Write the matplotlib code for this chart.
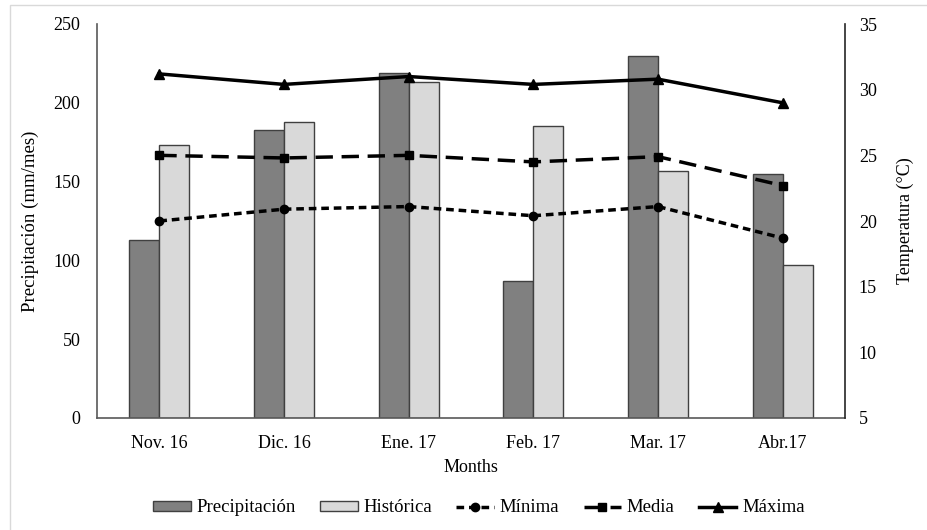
import matplotlib.pyplot as plt
import numpy as np
from matplotlib.lines import Line2D
from matplotlib.patches import Patch

plt.rcParams['font.family'] = ['Liberation Serif', 'DejaVu Serif']

months = ['Nov. 16', 'Dic. 16', 'Ene. 17', 'Feb. 17', 'Mar. 17', 'Abr.17']
precipitacion = [113, 183, 219, 87, 230, 155]
historica = [173, 188, 213, 185, 157, 97]
t_minima = [20.0, 20.9, 21.1, 20.4, 21.1, 18.7]
t_media = [25.0, 24.8, 25.0, 24.5, 24.9, 22.7]
t_maxima = [31.2, 30.4, 31.0, 30.4, 30.8, 29.0]

x = np.arange(len(months))
w = 0.24
edge = '#404040'
fs = 13

fig = plt.figure(figsize=(9.28, 5.30), dpi=100)
# light chart-area border
fig.add_artist(plt.Rectangle((10 / 928, -0.1), 1.2, 1 - 5 / 530 + 0.1,
                             transform=fig.transFigure, fill=False,
                             edgecolor='#d9d9d9', linewidth=1))
ax = fig.add_axes([97 / 928, 1 - 418 / 530, (845 - 97) / 928, (418 - 24) / 530])

ax.bar(x - w / 2, precipitacion, w, color='#808080', edgecolor=edge, linewidth=1)
ax.bar(x + w / 2, historica, w, color='#d9d9d9', edgecolor=edge, linewidth=1)

ax.set_xlim(-0.5, len(months) - 0.5)
ax.set_ylim(0, 250)
ax.set_yticks(range(0, 251, 50))
ax.set_xticks(x)
ax.set_xticklabels(months)
ax.set_xlabel('Months', fontsize=fs, labelpad=5)
ax.set_ylabel('Precipitación (mm/mes)', fontsize=fs + 0.5, labelpad=10)
ax.tick_params(axis='x', length=0, labelsize=fs, pad=12)
ax.tick_params(axis='y', length=0, labelsize=fs, pad=12)
ax.spines['top'].set_visible(False)
ax.spines['right'].set_visible(False)
for s in ('left', 'bottom'):
    ax.spines[s].set_color('#595959')
    ax.spines[s].set_linewidth(1.2)

ax2 = ax.twinx()
ax2.plot(x, t_minima, color='black', linestyle=(0, (2.2, 1.4)), linewidth=2.5,
         marker='o', markersize=6)
ax2.plot(x, t_media, color='black', linestyle=(0, (5, 2.5)), linewidth=2.5,
         marker='s', markersize=6)
ax2.plot(x, t_maxima, color='black', linestyle='-', linewidth=2.5,
         marker='^', markersize=7)
ax2.set_ylim(5, 35)
ax2.set_yticks(range(5, 36, 5))
ax2.set_ylabel('Temperatura (°C)', fontsize=fs, labelpad=14)
ax2.tick_params(axis='y', length=0, labelsize=fs, pad=10)
for s in ('top', 'left', 'bottom'):
    ax2.spines[s].set_visible(False)
ax2.spines['right'].set_color('#262626')
ax2.spines['right'].set_linewidth(1.2)

handles = [
    Patch(facecolor='#808080', edgecolor=edge, label='Precipitación'),
    Patch(facecolor='#d9d9d9', edgecolor=edge, label='Histórica'),
    Line2D([], [], color='black', linestyle=(0, (2.2, 1.4)), linewidth=2.5,
           marker='o', markersize=6, label='Mínima'),
    Line2D([], [], color='black', linestyle=(0, (5, 2.5)), linewidth=2.5,
           marker='s', markersize=6, label='Media'),
    Line2D([], [], color='black', linestyle='-', linewidth=2.5,
           marker='^', markersize=7, label='Máxima'),
]
fig.legend(handles=handles, loc='center', bbox_to_anchor=(479 / 928, 1 - 508 / 530),
           ncol=5, frameon=False, fontsize=fs + 0.5, handlelength=2.0,
           handleheight=0.45, handletextpad=0.3, columnspacing=1.3)

fig.savefig('out.png', dpi=100)
